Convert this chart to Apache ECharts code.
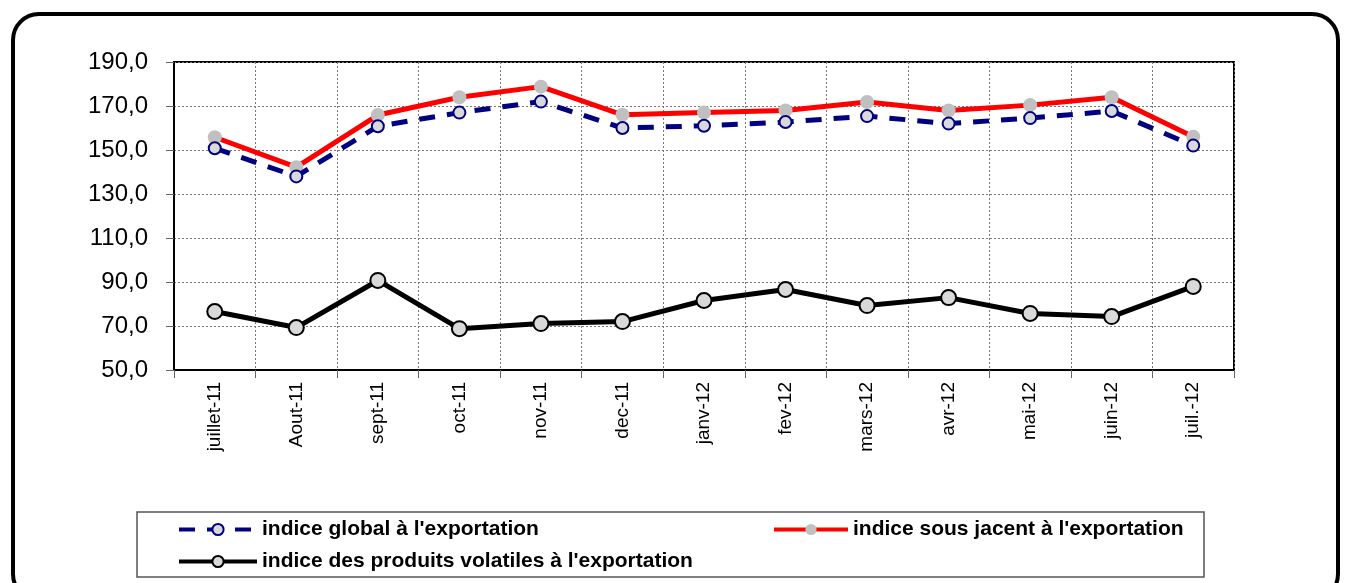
<!DOCTYPE html>
<html>
<head>
<meta charset="utf-8">
<script src="https://cdn.jsdelivr.net/npm/echarts@6/dist/echarts.min.js"></script>
<style>
html, body { margin: 0; padding: 0; background: #fff; }
#frame {
    position: absolute; left: 11px; top: 12px; width: 1329px; height: 590px;
    border: 4px solid #000; border-radius: 28px; box-sizing: border-box;
}
#chart { position: absolute; left: 0; top: 0; width: 1345px; height: 583px; }
</style>
</head>
<body>
<div id="frame"></div>
<div id="chart"></div>
<script>
// 类别（月份）
const months = ['juillet-11', 'Aout-11', 'sept-11', 'oct-11', 'nov-11', 'dec-11',
    'janv-12', 'fev-12', 'mars-12', 'avr-12', 'mai-12', 'juin-12', 'juil.-12'];

// 各指数
const indiceGlobal = [150.8, 138.0, 160.8, 167.0, 172.0, 160.0, 161.0, 162.7, 165.4, 162.0, 164.5, 167.7, 152.0];
const indiceSousJacent = [155.8, 142.2, 165.9, 174.0, 178.8, 166.0, 167.0, 168.0, 171.8, 168.0, 170.4, 174.0, 156.0];
const indiceVolatiles = [76.6, 69.3, 90.7, 68.8, 71.1, 72.0, 81.6, 86.6, 79.3, 82.9, 75.7, 74.3, 88.0];

const names = ["indice global à l'exportation", "indice sous jacent à l'exportation",
    "indice des produits volatiles à l'exportation"];

const chart = echarts.init(document.getElementById('chart'));
const font = 'Liberation Sans, Arial, sans-serif';

const legendText = { fontFamily: font, fontSize: 21, fontWeight: 'bold', color: '#000', padding: [0, 0, 0, 0] };

const option = {
    animation: false,
    grid: {
        left: 174, right: 111, top: 62, bottom: 213,
        show: true, borderColor: '#000', borderWidth: 2
    },
    graphic: [{
        type: 'rect',
        shape: { x: 137, y: 512, width: 1067, height: 65 },
        style: { fill: 'none', stroke: '#555', lineWidth: 1.5 },
        z: -1
    }],
    legend: [
        {
            data: [names[0], names[2]],
            orient: 'vertical',
            left: 172, top: 514, itemGap: 11,
            itemWidth: 78, itemHeight: 14,
            lineStyle: { width: 4 },
            textStyle: legendText
        },
        {
            data: [names[1]],
            left: 767, top: 514,
            itemWidth: 74, itemHeight: 14,
            lineStyle: { width: 4 },
            textStyle: legendText
        }
    ],
    xAxis: {
        type: 'category',
        data: months,
        boundaryGap: true,
        axisLine: { lineStyle: { color: '#000', width: 2 } },
        axisTick: { show: true, length: 8, lineStyle: { color: '#666' } },
        axisLabel: { rotate: 90, color: '#000', fontFamily: font, fontSize: 19, margin: 12 },
        splitLine: { show: true, lineStyle: { color: '#777', type: [2, 2], width: 1 } }
    },
    yAxis: {
        type: 'value',
        min: 50, max: 190, interval: 20,
        axisLine: { show: true, lineStyle: { color: '#000', width: 2 } },
        axisTick: { show: true, length: 8, lineStyle: { color: '#666' } },
        axisLabel: {
            color: '#000', fontFamily: font, fontSize: 24, margin: 26,
            formatter: v => v.toFixed(1).replace('.', ',')
        },
        splitLine: { show: true, lineStyle: { color: '#777', type: [2, 2], width: 1 } }
    },
    series: [
        {
            name: names[1],
            type: 'line',
            data: indiceSousJacent,
            symbol: 'circle', symbolSize: 14,
            lineStyle: { color: '#ff0000', width: 5 },
            itemStyle: { color: '#c0c0c0', borderWidth: 0 },
            z: 3
        },
        {
            name: names[0],
            type: 'line',
            data: indiceGlobal,
            symbol: 'circle', symbolSize: 12,
            lineStyle: { color: '#000080', width: 5, type: [16, 12] },
            itemStyle: { color: '#d9d9d9', borderColor: '#000080', borderWidth: 2 },
            z: 4
        },
        {
            name: names[2],
            type: 'line',
            data: indiceVolatiles,
            symbol: 'circle', symbolSize: 15,
            lineStyle: { color: '#000', width: 5 },
            itemStyle: { color: '#d9d9d9', borderColor: '#000', borderWidth: 2 },
            z: 3
        }
    ]
};

chart.setOption(option);
</script>
</body>
</html>
